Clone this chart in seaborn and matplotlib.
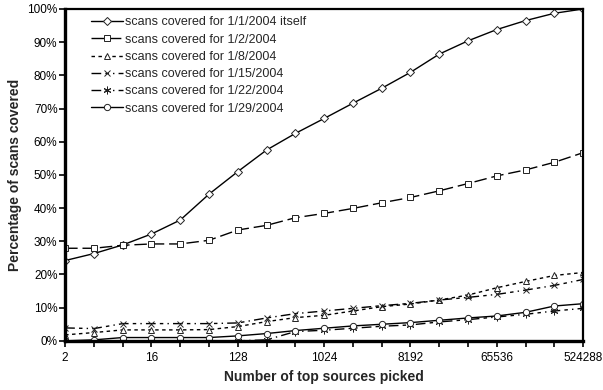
import matplotlib
matplotlib.use("Agg")
import matplotlib.pyplot as plt
import matplotlib.ticker as mticker
import seaborn as sns
import pandas as pd

sources = [2**k for k in range(1, 20)]
x_tick_labels = ["2", "16", "128", "1024", "8192", "65536", "524288"]

s_jan1 = [24.2, 26.3, 28.9, 32.2, 36.4, 44.2, 51.0, 57.5, 62.5, 67.0, 71.6, 76.1,
          80.9, 86.4, 90.4, 93.8, 96.5, 98.7, 100.0]
s_jan2 = [27.9, 27.9, 28.8, 29.2, 29.2, 30.3, 33.4, 34.8, 37.1, 38.4, 39.9, 41.6,
          43.2, 45.2, 47.4, 49.7, 51.5, 53.8, 56.7]
s_jan8 = [1.8, 2.5, 3.3, 3.3, 3.3, 3.4, 4.3, 5.8, 7.0, 7.7, 9.0, 10.3,
          11.1, 12.3, 13.8, 16.0, 17.9, 19.7, 20.6]
s_jan15 = [3.9, 3.7, 5.2, 5.2, 5.2, 5.2, 5.4, 6.9, 8.2, 9.0, 9.8, 10.6,
           11.3, 12.3, 13.1, 14.0, 15.3, 16.7, 18.5]
s_jan22 = [0.0, 0.0, 0.0, 0.0, 0.0, 0.0, 0.0, 0.3, 2.8, 3.2, 3.8, 4.4,
           4.8, 5.7, 6.4, 7.2, 8.0, 9.0, 9.8]
s_jan29 = [0.0, 0.3, 1.0, 1.0, 1.0, 1.0, 1.5, 2.2, 3.1, 3.8, 4.5, 5.0,
           5.5, 6.2, 6.9, 7.5, 8.6, 10.5, 11.2]

series_names = ["scans covered for 1/1/2004 itself",
                "scans covered for 1/2/2004",
                "scans covered for 1/8/2004",
                "scans covered for 1/15/2004",
                "scans covered for 1/22/2004",
                "scans covered for 1/29/2004"]
series_vals = [s_jan1, s_jan2, s_jan8, s_jan15, s_jan22, s_jan29]

styles = [
    dict(marker="D", ms=3.6, ls="-"),
    dict(marker="s", ms=5.0, ls=(0, (9, 3.5))),
    dict(marker="^", ms=4.5, ls=(0, (2.5, 2.5))),
    dict(marker="x", ms=5.0, ls=(0, (7, 3, 2.5, 3, 1, 3))),
    dict(marker=(6, 2, 0), ms=5.5, ls=(0, (7, 3, 2.5, 3, 1, 3))),
    dict(marker="o", ms=4.5, ls="-"),
]

sns.set_style("white")
plt.rcParams["font.family"] = ["Liberation Sans", "DejaVu Sans"]

fig = plt.figure(figsize=(6.03, 3.90), dpi=100)
ax = fig.add_axes([0.108, 0.126, 0.859, 0.851])

for name, vals, st in zip(series_names, series_vals, styles):
    df = pd.DataFrame({"x": sources, "y": vals})
    sns.lineplot(data=df, x="x", y="y", ax=ax, color="black", linewidth=1.0,
                 linestyle=st["ls"], marker=st["marker"], markersize=st["ms"],
                 markerfacecolor="white", markeredgecolor="#222222",
                 markeredgewidth=0.7, label=name)

ax.set_xscale("log", base=2)
ax.set_xlim(2, 524288)
ax.set_ylim(0, 100)
major = [int(t) for t in x_tick_labels]
ax.xaxis.set_major_locator(mticker.FixedLocator(major))
ax.xaxis.set_major_formatter(mticker.FixedFormatter(x_tick_labels))
ax.xaxis.set_minor_locator(mticker.FixedLocator(sources))
ax.xaxis.set_minor_formatter(mticker.NullFormatter())
ax.yaxis.set_major_locator(mticker.MultipleLocator(10))
ax.yaxis.set_major_formatter(mticker.FuncFormatter(lambda v, p: f"{v:.0f}%"))

ax.tick_params(axis="both", which="both", direction="out", length=4, width=1.2,
               labelsize=8.5, colors="black", bottom=True, left=True)
ax.tick_params(axis="x", pad=4)
ax.tick_params(axis="y", pad=1.5)

for side, lw in [("left", 2.4), ("bottom", 2.4), ("top", 1.6), ("right", 1.6)]:
    ax.spines[side].set_visible(True)
    ax.spines[side].set_color("black")
    ax.spines[side].set_linewidth(lw)

ax.set_xlabel("Number of top sources picked", fontsize=10, fontweight="bold", labelpad=4)
ax.set_ylabel("Percentage of scans covered", fontsize=10, fontweight="bold", labelpad=4)

leg = ax.legend(loc="upper left", bbox_to_anchor=(0.045, 0.985), frameon=False,
                fontsize=9, handlelength=2.6, handletextpad=0.1,
                labelspacing=0.42, borderaxespad=0.0, borderpad=0.2)

fig.savefig("out.png", dpi=100)
